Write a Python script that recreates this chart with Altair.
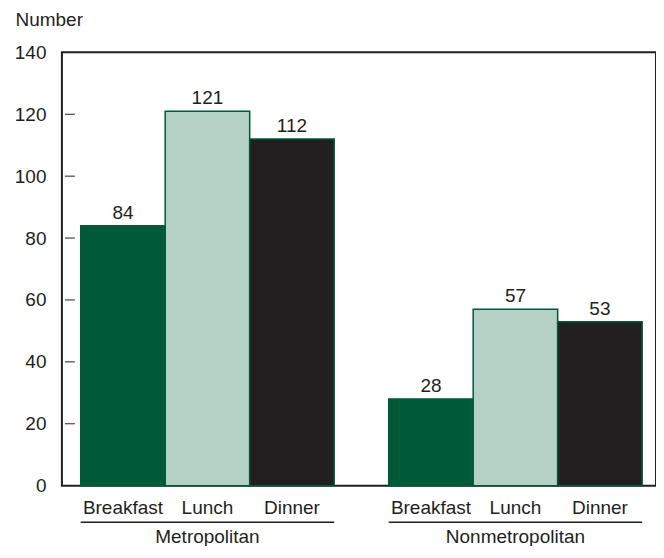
import altair as alt
import pandas as pd

groups = ["Metropolitan", "Metropolitan", "Metropolitan",
          "Nonmetropolitan", "Nonmetropolitan", "Nonmetropolitan"]
meals = ["Breakfast", "Lunch", "Dinner", "Breakfast", "Lunch", "Dinner"]
values = [84, 121, 112, 28, 57, 53]
group_names = ["Metropolitan", "Nonmetropolitan"]
meal_order = ["Breakfast", "Lunch", "Dinner"]
meal_colors = ["#005a37", "#b5d0c4", "#231f20"]
tick_values = [20, 40, 60, 80, 100, 120]

df = pd.DataFrame({"group": groups, "meal": meals, "value": values})
gdf = pd.DataFrame({"group": group_names})
tdf = pd.DataFrame({"t": tick_values})

W, H = 595, 434
FONT = "Liberation Sans"
FS = 19
INK = "#231f20"

xscale = alt.Scale(domain=group_names, paddingInner=0.177, paddingOuter=0.053, align=0.576)
xenc = alt.X("group:N", scale=xscale, axis=None)
xoff = alt.XOffset("meal:N", sort=meal_order, scale=alt.Scale(domain=meal_order, paddingInner=0, paddingOuter=0))
yscale = alt.Scale(domain=[0, 140], nice=False)

bars = alt.Chart(df).mark_bar(stroke="#00573a", strokeWidth=1.5).encode(
    x=xenc,
    xOffset=xoff,
    y=alt.Y("value:Q", scale=yscale,
            axis=alt.Axis(values=[0, 20, 40, 60, 80, 100, 120, 140], grid=False, domain=False,
                          ticks=False, tickSize=0, labelPadding=16, labelFontSize=FS,
                          labelFont=FONT, labelColor=INK, title="Number", titleAngle=0,
                          titleAlign="left", titleBaseline="alphabetic", titleX=-47, titleY=-27,
                          titleFont=FONT, titleFontSize=FS, titleFontWeight="normal",
                          titleColor=INK)),
    color=alt.Color("meal:N", scale=alt.Scale(domain=meal_order, range=meal_colors), legend=None),
)

vals = alt.Chart(df).mark_text(baseline="bottom", dy=-3, font=FONT, fontSize=FS, color=INK).encode(
    x=xenc, xOffset=xoff, y=alt.Y("value:Q", scale=yscale), text="value:Q"
)

meal_lbl = alt.Chart(df).mark_text(baseline="middle", font=FONT, fontSize=FS, color=INK).encode(
    x=xenc, xOffset=xoff, y=alt.value(H + 22), text="meal:N"
)

group_line = alt.Chart(gdf).mark_rect(color=INK).encode(
    x=xenc, y=alt.value(H + 36), y2=alt.value(H + 37.5)
)

group_lbl = alt.Chart(gdf).mark_text(baseline="middle", font=FONT, fontSize=FS, color=INK).encode(
    x=xenc, y=alt.value(H + 51), text="group:N"
)

ticks = alt.Chart(tdf).mark_rule(color=INK, strokeWidth=1).encode(
    x=alt.value(3), x2=alt.value(13), y=alt.Y("t:Q", scale=yscale)
)

chart = alt.layer(bars, vals, meal_lbl, group_line, group_lbl, ticks).properties(
    width=W, height=H,
    autosize=alt.AutoSizeParams(type="none"),
    padding={"left": 54, "top": 44, "right": 0, "bottom": 60},
    background="white",
).configure_view(stroke=INK, strokeWidth=2)

chart.save("out.html", embed_options={"renderer": "svg", "actions": False})
